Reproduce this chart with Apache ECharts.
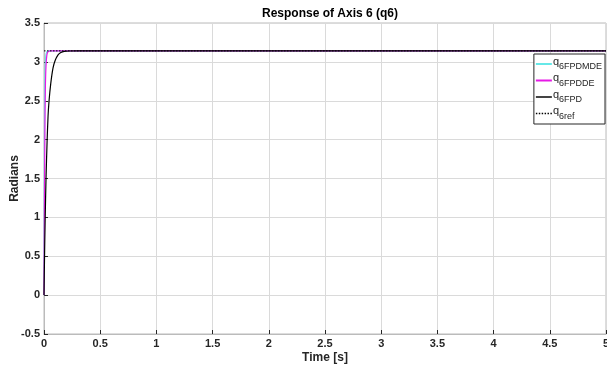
<!DOCTYPE html>
<html><head><meta charset="utf-8">
<script src="https://cdn.jsdelivr.net/npm/echarts@6/dist/echarts.min.js"></script>
<style>html,body{margin:0;padding:0;background:#fff}#c{width:607px;height:369px}</style>
</head><body><div id="c"></div>
<script>
const seriesNames = ['6FPDMDE', '6FPDDE', '6FPD', '6ref'];
const tMDE = [0, 0.003, 0.006, 0.01, 0.016, 0.025, 0.04, 5];
const qMDE = [0, 1.5, 2.45, 2.9, 3.08, 3.13, 3.1416, 3.1416];
const tDE = [0, 0.004, 0.008, 0.012, 0.018, 0.027, 0.04, 0.06, 5];
const qDE = [0, 1.2, 2.1, 2.64, 2.95, 3.1, 3.135, 3.1416, 3.1416];
const tPD = [0, 0.005, 0.01, 0.018, 0.027, 0.036, 0.045, 0.06, 0.08, 0.1, 0.125, 0.15, 0.18, 0.22, 0.3, 5];
const qPD = [0, 0.52, 0.95, 1.5, 1.95, 2.3, 2.5, 2.72, 2.92, 3.02, 3.09, 3.12, 3.135, 3.14, 3.1416, 3.1416];
const tRef = [0, 5];
const qRef = [3.1416, 3.1416];
const xTicks = [0, 0.5, 1, 1.5, 2, 2.5, 3, 3.5, 4, 4.5, 5];
const yTicks = [-0.5, 0, 0.5, 1, 1.5, 2, 2.5, 3, 3.5];

const zip = (t, q) => t.map((v, i) => [v, q[i]]);
const font = 'Arial, "Liberation Sans", sans-serif';
const chart = echarts.init(document.getElementById('c'));
const dotIcon = 'path://M0,0h1.5v1.5h-1.5z M3,0h1.5v1.5h-1.5z M6,0h1.5v1.5h-1.5z M9,0h1.5v1.5h-1.5z M12,0h1.5v1.5h-1.5z M15,0h1.5v1.5h-1.5z';
chart.setOption({
  animation: false,
  title: { text: 'Response of Axis 6 (q6)', left: 325, top: 3, textAlign: 'center',
    textStyle: { fontFamily: font, fontSize: 12, fontWeight: 'bold', color: '#000' } },
  grid: { left: 44, right: 1, top: 23, bottom: 35, show: true, borderColor: '#bbb', borderWidth: 1,
    containLabel: false, outerBoundsMode: 'none' },
  legend: {
    right: 2, top: 54, orient: 'vertical', itemGap: 1,
    backgroundColor: '#fff', borderColor: '#262626', borderWidth: 1, padding: [2, 3, 3, 2],
    itemWidth: 16, itemHeight: 2,
    data: [
      { name: seriesNames[0], icon: 'rect' },
      { name: seriesNames[1], icon: 'rect' },
      { name: seriesNames[2], icon: 'rect' },
      { name: seriesNames[3], icon: dotIcon, itemStyle: { color: '#000' } }
    ],
    formatter: n => '{a|q}{b|' + n + '}',
    textStyle: {
      fontFamily: font, color: '#262626', padding: [0, 0, 0, -4],
      rich: {
        a: { fontSize: 11, fontFamily: font, color: '#262626', padding: [0, 0, 5, 0] },
        b: { fontSize: 9, fontFamily: font, color: '#262626', padding: [6, 0, 0, 0] }
      }
    }
  },
  xAxis: {
    type: 'value', min: 0, max: 5, interval: 0.5,
    name: 'Time [s]', nameLocation: 'middle', nameGap: 18, nameMoveOverlap: false,
    nameTextStyle: { fontFamily: font, fontSize: 12, fontWeight: 'bold', color: '#262626' },
    axisLine: { onZero: false, lineStyle: { color: '#bbb' } },
    axisTick: { inside: true, length: 4, lineStyle: { color: '#262626' } },
    axisLabel: { fontFamily: font, fontSize: 11, fontWeight: 'bold', color: '#262626', margin: 4,
      formatter: v => String(v) },
    splitLine: { lineStyle: { color: '#dadada' } }
  },
  yAxis: {
    type: 'value', min: -0.5, max: 3.5, interval: 0.5,
    name: 'Radians', nameLocation: 'middle', nameGap: 23, nameMoveOverlap: false,
    nameTextStyle: { fontFamily: font, fontSize: 12, fontWeight: 'bold', color: '#262626' },
    axisLine: { show: true, onZero: false, lineStyle: { color: '#bbb' } },
    axisTick: { show: true, inside: true, length: 4, lineStyle: { color: '#262626' } },
    axisLabel: { fontFamily: font, fontSize: 11, fontWeight: 'bold', color: '#262626', margin: 4,
      formatter: v => String(v) },
    splitLine: { lineStyle: { color: '#dadada' } }
  },
  series: [
    { name: seriesNames[0], type: 'line', data: zip(tMDE, qMDE), showSymbol: false, smooth: 0.3,
      lineStyle: { color: '#66e8e8', width: 1.2 }, itemStyle: { color: '#66e8e8' } },
    { name: seriesNames[1], type: 'line', data: zip(tDE, qDE), showSymbol: false, smooth: 0.3,
      lineStyle: { color: '#e619e6', width: 1.2 }, itemStyle: { color: '#e619e6' } },
    { name: seriesNames[2], type: 'line', data: zip(tPD, qPD), showSymbol: false, smooth: 0.3,
      lineStyle: { color: '#000', width: 1.2 }, itemStyle: { color: '#444' } },
    { name: seriesNames[3], type: 'line', data: zip(tRef, qRef), showSymbol: false,
      lineStyle: { color: '#000', width: 1, type: [1.5, 1.5] }, itemStyle: { color: '#000' } }
  ]
});
</script></body></html>
